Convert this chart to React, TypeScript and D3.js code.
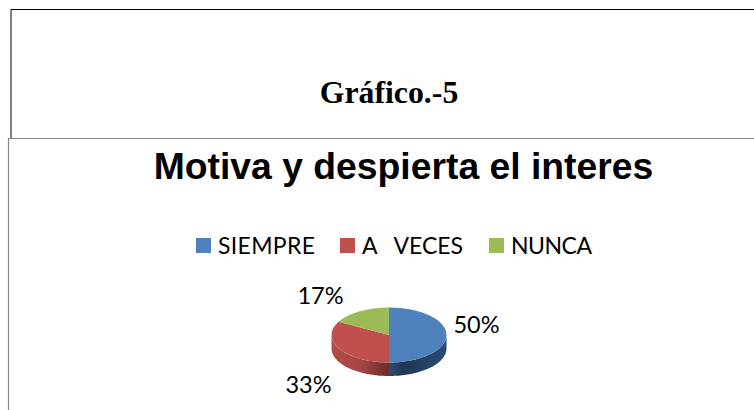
import React from "react";
import * as d3 from "d3";

const categories = ["SIEMPRE", "A   VECES", "NUNCA"];
const values = [50, 33, 17];
const labels = ["50%", "33%", "17%"];
const colors = ["#4F81BD", "#C0504D", "#9BBB59"];
const darkColors = ["#1F3655", "#6E2A28", "#55692E"];
const midColors = ["#2C4C74", "#8C3A38", "#6F8A3A"];
const legendX = [196, 340, 489];
const legendWidths = [97, 101, 81];
const labelPos: [number, number][] = [[476.5, 333], [308.5, 393], [320.5, 304]];

const W = 754, H = 410;
const cx = 389, cy = 335, rx = 57.5, ry = 27.5, depth = 13.5;

export default function App() {
  const arcs = d3.pie<number>().sort(null)(values);
  const arcGen = d3.arc<d3.PieArcDatum<number>>().innerRadius(0).outerRadius(rx);
  const k = ry / rx;

  const pt = (a: number, dy = 0) => [cx + rx * Math.sin(a), cy - ry * Math.cos(a) + dy];

  const wall = (a0: number, a1: number) => {
    const s = Math.max(a0, Math.PI / 2);
    const e = Math.min(a1, (3 * Math.PI) / 2);
    if (s >= e) return null;
    const p = d3.path();
    const n = 48;
    const sc = d3.scaleLinear().domain([0, n]).range([s, e]);
    d3.range(n + 1).forEach((i) => {
      const [x, y] = pt(sc(i));
      if (i === 0) p.moveTo(x, y); else p.lineTo(x, y);
    });
    d3.range(n, -1, -1).forEach((i) => {
      const [x, y] = pt(sc(i), depth);
      p.lineTo(x, y);
    });
    p.closePath();
    return p.toString();
  };

  return (
    <svg width={W} height={H} viewBox={`0 0 ${W} ${H}`} style={{ position: "absolute", left: 0, top: 0, background: "#fff" }}>
      <defs>
        <linearGradient id="wall0" gradientUnits="userSpaceOnUse" x1={cx} x2={cx + rx} y1={0} y2={0}>
          <stop offset="0" stopColor={midColors[0]} />
          <stop offset="0.25" stopColor={darkColors[0]} />
          <stop offset="1" stopColor={midColors[0]} />
        </linearGradient>
        <linearGradient id="wall1" gradientUnits="userSpaceOnUse" x1={cx - rx} x2={cx} y1={0} y2={0}>
          <stop offset="0" stopColor="#B24B48" />
          <stop offset="0.55" stopColor="#A24543" />
          <stop offset="1" stopColor={darkColors[1]} />
        </linearGradient>
        <linearGradient id="wall2" x1="0" x2="1" y1="0" y2="0">
          <stop offset="0" stopColor={midColors[2]} />
          <stop offset="1" stopColor={darkColors[2]} />
        </linearGradient>
      </defs>

      <path d={`M11,${H - 272}V9.5H${W}`} fill="none" stroke="#000" strokeWidth={1} />
      <path d={`M${W},138.5H8.5V${H}`} fill="none" stroke="#868686" strokeWidth={1.2} />

      <text x={389} y={103} textAnchor="middle" fontFamily="'Liberation Serif'" fontWeight="bold" fontSize={31.8} fill="#000">
        Gráfico.-5
      </text>
      <text x={403.5} y={179} textAnchor="middle" fontFamily="'Liberation Sans'" fontWeight="bold" fontSize={37.3} fill="#000">
        Motiva y despierta el interes
      </text>

      {categories.map((c, i) => (
        <g key={c}>
          <rect x={legendX[i]} y={238} width={15} height={15} fill={colors[i]} />
          <text x={legendX[i] + 22} y={254} fontFamily="Lato" fontSize={23} fill="#000" textLength={legendWidths[i]} lengthAdjust="spacing" style={{ whiteSpace: "pre" }}>
            {c}
          </text>
        </g>
      ))}

      {arcs.map((a, i) => {
        const d = wall(a.startAngle, a.endAngle);
        return d ? <path key={i} d={d} fill={`url(#wall${i})`} /> : null;
      })}
      <g transform={`translate(${cx},${cy}) scale(1,${k})`}>
        {arcs.map((a, i) => (
          <path key={i} d={arcGen(a) ?? ""} fill={colors[i]} />
        ))}
      </g>

      {labels.map((l, i) => (
        <text key={l} x={labelPos[i][0]} y={labelPos[i][1]} textAnchor="middle" fontFamily="Lato" fontSize={23.5} fill="#000">
          {l}
        </text>
      ))}
    </svg>
  );
}
